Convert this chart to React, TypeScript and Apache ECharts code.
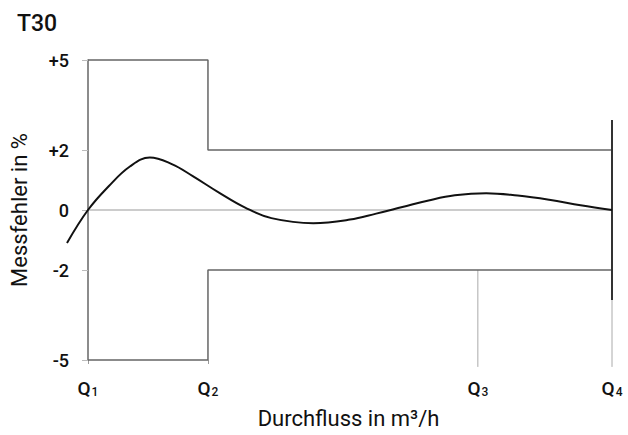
import React, { useEffect, useRef } from "react";
import * as echarts from "echarts";

// Flow positions (relative units, Q1 = 0, Q4 = 100) and labels
const qPositions = [0, 22.9, 74.4, 100];
const qSubscripts = ["1", "2", "3", "4"];

// Y axis ticks (%)
const yTicks = [-5, -2, 0, 2, 5];

// Error limits (%): lower-flow zone (Q1..Q2) and upper-flow zone (Q2..Q4)
const lowZoneLimit = 5;
const highZoneLimit = 2;

// Measured error curve
const curveX = [-4, 0, 4, 8, 11.8, 16, 20, 25, 30, 35, 43, 50, 55, 60, 65, 70, 76, 82, 88, 94, 100];
const curveY = [-1.1, 0, 0.8, 1.45, 1.75, 1.53, 1.13, 0.58, 0.08, -0.27, -0.44, -0.32, -0.12, 0.1, 0.32, 0.49, 0.56, 0.48, 0.34, 0.16, 0];

// Vertical marker extents (%)
const q4DarkRange = [3, -3];
const markerBottom = -5.23;

const FONT = "Roboto";

export default function App() {
  const ref = useRef<HTMLDivElement>(null);
  useEffect(() => {
    document.body.style.margin = "0";
    if (!ref.current) return;
    const chart = echarts.init(ref.current, null, { renderer: "svg" });
    const [q1, q2, q3, q4] = qPositions;
    const grayLine = { color: "#666", width: 1.5 };
    const lineBase = { type: "line", symbol: "none", clip: false, silent: true } as any;
    chart.setOption({
      animation: false,
      title: {
        text: "T30",
        left: 12,
        top: 7,
        textStyle: { fontFamily: FONT, fontSize: 23, fontWeight: 500, color: "#111" },
      },
      grid: { left: 67, right: 16, top: 60, bottom: 75, containLabel: false, outerBoundsMode: "none" },
      xAxis: {
        type: "value",
        min: curveX[0],
        max: q4,
        name: "Durchfluss in m³/h",
        nameLocation: "middle",
        nameGap: 47,
        nameTextStyle: { fontFamily: FONT, fontSize: 22, color: "#111", padding: [0, 0, 0, 18] },
        axisLine: { show: false, onZero: false },
        splitLine: { show: false },
        axisTick: { show: true, customValues: [q1, q2], length: 4, lineStyle: { color: "#999" } },
        axisLabel: {
          customValues: qPositions,
          showMinLabel: true,
          showMaxLabel: true,
          margin: 19,
          formatter: (v: number) => {
            const i = qPositions.findIndex((p) => Math.abs(p - v) < 1e-6);
            return "{q|Q}{s|" + (i >= 0 ? qSubscripts[i] : "") + "}";
          },
          rich: {
            q: { fontFamily: FONT, fontSize: 19, fontWeight: 500, color: "#111" },
            s: { fontFamily: FONT, fontSize: 12, fontWeight: 500, color: "#111", padding: [6, 0, 0, 1] },
          },
        },
      },
      yAxis: {
        type: "value",
        min: -5,
        max: 5,
        offset: -21,
        name: "Messfehler in %",
        nameLocation: "middle",
        nameGap: 58,
        nameTextStyle: { fontFamily: FONT, fontSize: 22, color: "#111" },
        axisLine: { show: true, onZero: false, lineStyle: grayLine },
        splitLine: { show: false },
        axisTick: { show: true, customValues: yTicks, length: 6, lineStyle: { color: "#bbb" } },
        axisLabel: {
          customValues: yTicks,
          margin: 19,
          fontFamily: FONT,
          fontSize: 18,
          fontWeight: 500,
          color: "#111",
          formatter: (v: number) => (v > 0 ? "+" + v : String(v)),
        },
      },
      series: [
        {
          ...lineBase,
          data: [[q1, 0], [q4, 0]],
          lineStyle: { color: "#999", width: 1 },
          z: 1,
        },
        {
          ...lineBase,
          data: [[q1, lowZoneLimit], [q2, lowZoneLimit], [q2, highZoneLimit], [q4, highZoneLimit]],
          lineStyle: grayLine,
          z: 2,
        },
        {
          ...lineBase,
          data: [[q1, -lowZoneLimit], [q2, -lowZoneLimit], [q2, -highZoneLimit], [q4, -highZoneLimit]],
          lineStyle: grayLine,
          z: 2,
        },
        {
          ...lineBase,
          data: [[q3, -highZoneLimit], [q3, markerBottom]],
          lineStyle: { color: "#aaa", width: 1 },
          z: 1,
        },
        {
          ...lineBase,
          data: [[q4, q4DarkRange[1]], [q4, markerBottom]],
          lineStyle: { color: "#aaa", width: 1 },
          z: 1,
        },
        {
          ...lineBase,
          data: [[q4, q4DarkRange[0]], [q4, q4DarkRange[1]]],
          lineStyle: { color: "#333", width: 2 },
          z: 3,
        },
        {
          ...lineBase,
          smooth: 0.4,
          data: curveX.map((x, i) => [x, curveY[i]]),
          lineStyle: { color: "#111", width: 2 },
          z: 4,
        },
      ],
    });
    return () => chart.dispose();
  }, []);
  return <div ref={ref} style={{ width: 628, height: 435 }} />;
}
